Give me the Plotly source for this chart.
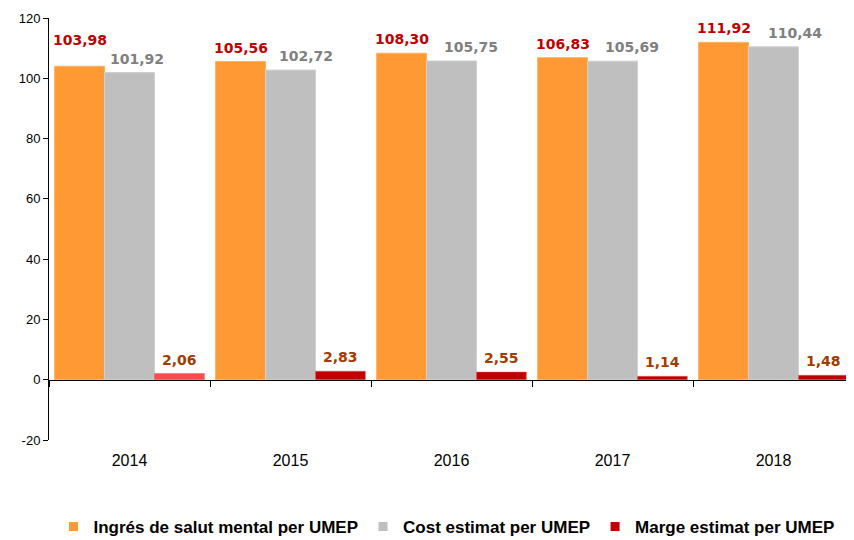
import plotly.graph_objects as go

years = ["2014", "2015", "2016", "2017", "2018"]
ingres = [103.98, 105.56, 108.30, 106.83, 111.92]
cost = [101.92, 102.72, 105.75, 105.69, 110.44]
marge = [2.06, 2.83, 2.55, 1.14, 1.48]
marge_colors = ["#ff4b4b", "#c00000", "#c00000", "#c00000", "#c00000"]
y_ticks = [-20, 0, 20, 40, 60, 80, 100, 120]

series_names = ["Ingrés de salut mental per UMEP", "Cost estimat per UMEP", "Marge estimat per UMEP"]
legend_colors = ["#ff9933", "#bfbfbf", "#c00000"]

# label nudges (pixels) as placed in the original chart
ingres_label_dy = [12, 0, 0, 0, 0]
cost_label_dx = [7, 15, 19, 19, 21]

label_font = dict(family="DejaVu Sans", size=14)

# The page body has an 8px margin; compensate so the figure lines up with the window.
W, H, OFF = 854, 540, 8

fig = go.Figure()
fig.add_trace(go.Bar(
    x=years, y=ingres, name=series_names[0], offsetgroup="a", showlegend=False,
    marker=dict(color="#ff9933", line=dict(color="#ffb060", width=1)),
))
fig.add_trace(go.Bar(
    x=years, y=cost, name=series_names[1], offsetgroup="b", showlegend=False,
    marker=dict(color="#bfbfbf", line=dict(color="#d0d0d0", width=1)),
))
fig.add_trace(go.Bar(
    x=years, y=marge, name=series_names[2], offsetgroup="c", showlegend=False,
    marker=dict(color=marge_colors, line=dict(color="#e06060", width=0.5)),
))
# legend entries (small squares)
for nm, col in zip(series_names, legend_colors):
    fig.add_trace(go.Scatter(
        x=[None], y=[None], mode="markers", name=nm,
        marker=dict(symbol="square", size=9, color=col),
    ))

plot_w = W - OFF - 41
bar_w = plot_w / len(years) * (1 - 0.07) / 3


def fmt(v):
    return "<b>" + f"{v:.2f}".replace(".", ",") + "</b>"


for i in range(len(years)):
    fig.add_annotation(x=i, y=ingres[i], text=fmt(ingres[i]), showarrow=False,
                       xshift=-bar_w, yshift=14 + ingres_label_dy[i],
                       font=dict(color="#c00000", **label_font))
    fig.add_annotation(x=i, y=cost[i], text=fmt(cost[i]), showarrow=False,
                       xshift=cost_label_dx[i], yshift=14,
                       font=dict(color="#808080", **label_font))
    fig.add_annotation(x=i, y=marge[i], text=fmt(marge[i]), showarrow=False,
                       xshift=bar_w, yshift=14,
                       font=dict(color="#a33a00", **label_font))

fig.update_layout(
    width=W - OFF, height=H - OFF,
    margin=dict(l=41, r=0, t=10, b=100, autoexpand=False),
    plot_bgcolor="white", paper_bgcolor="white",
    barmode="group", bargap=0.07, bargroupgap=0,
    separators=",.",
    showlegend=True,
    legend=dict(
        orientation="h", x=0.5 - 5 / plot_w, xanchor="center",
        yref="container", y=1 - (527 - OFF) / (H - OFF), yanchor="middle",
        font=dict(family="Liberation Sans, Arial", size=17, color="black", weight="bold"),
        itemwidth=30, traceorder="normal",
    ),
    font=dict(family="Liberation Sans, Arial", color="black"),
)
fig.update_yaxes(
    range=[-20, 120], tickvals=y_ticks, ticktext=[str(v) for v in y_ticks],
    showgrid=False, zeroline=False,
    showline=True, linecolor="black", linewidth=1,
    ticks="outside", ticklen=5, tickcolor="black",
    tickfont=dict(size=13, color="black"), automargin=False,
)
fig.update_xaxes(
    type="category", range=[-0.5, 4.5],
    anchor="free", position=1/7,
    showline=True, linecolor="black", linewidth=1,
    ticks="outside", ticklen=6, tickcolor="black", tickson="boundaries",
    ticklabelstandoff=66,
    tickfont=dict(size=16, color="black"),
    showgrid=False, automargin=False,
)

fig.write_html("out.html")
